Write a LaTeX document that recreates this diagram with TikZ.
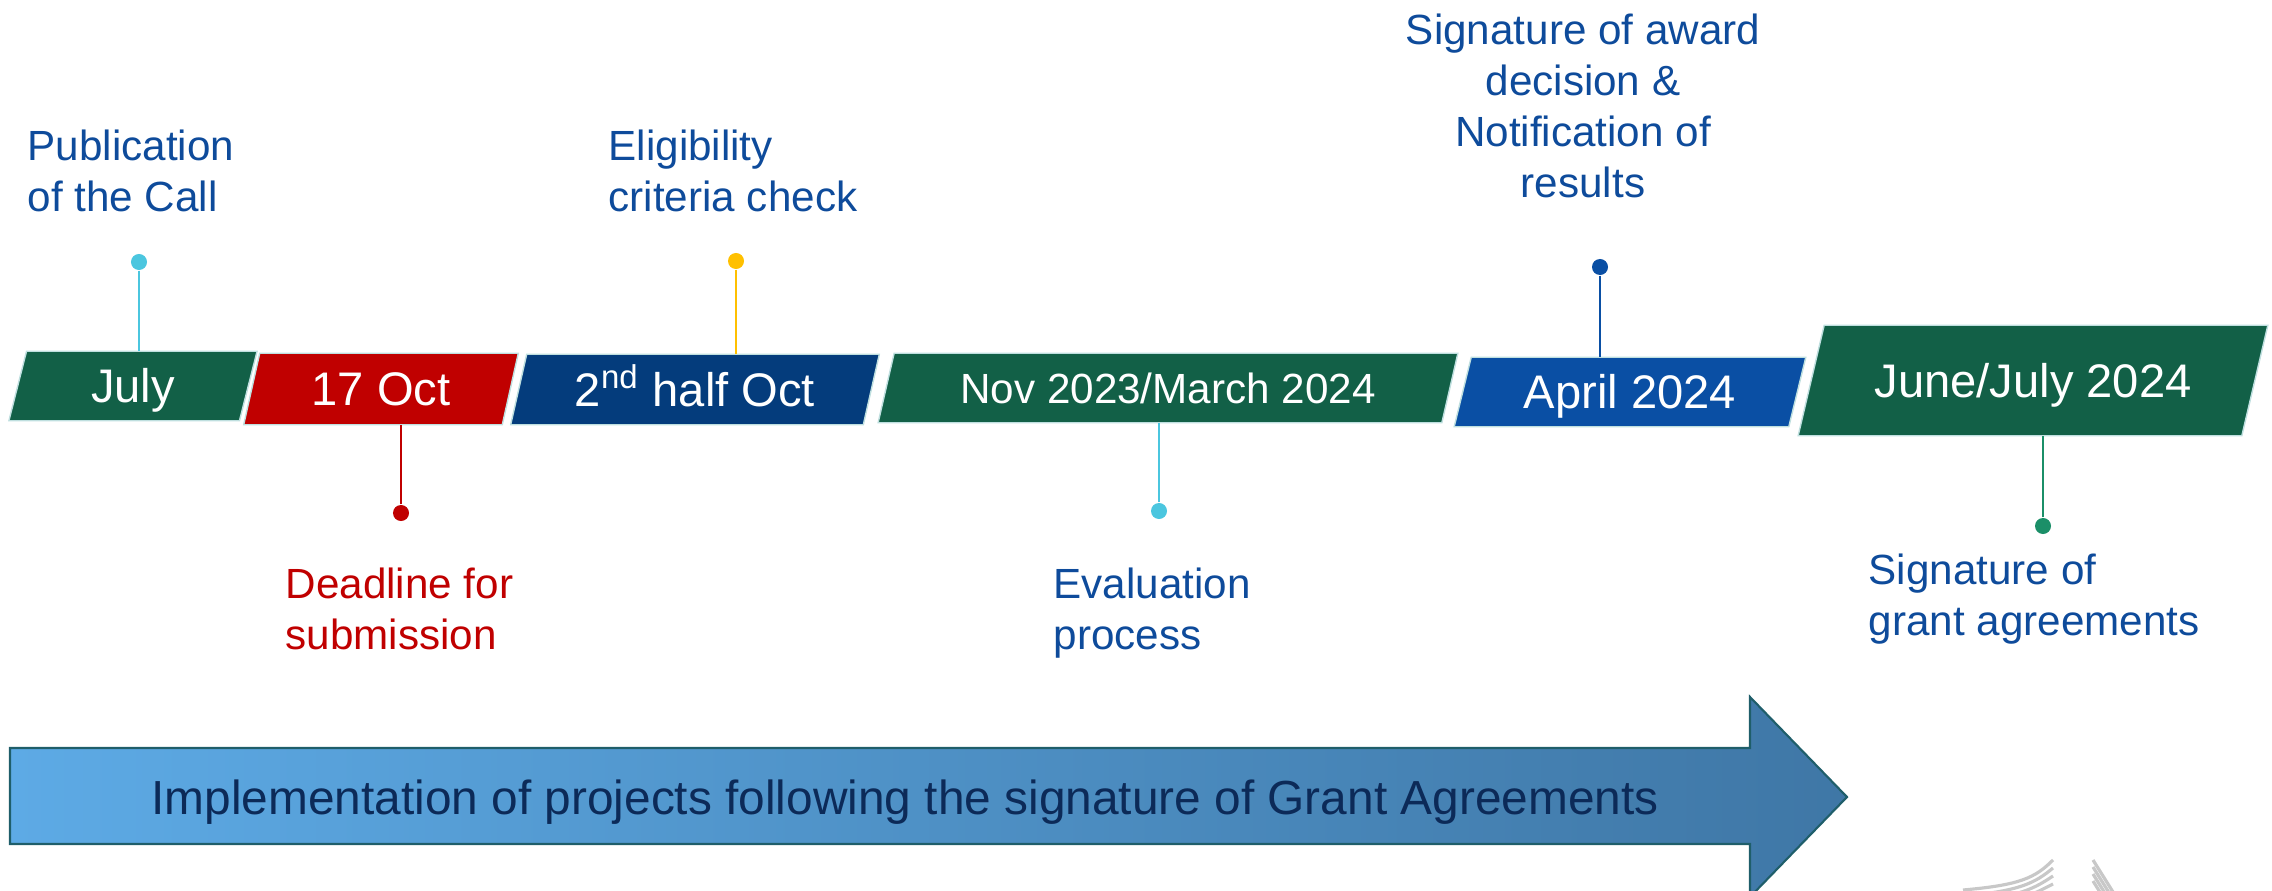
\documentclass[tikz,border=0pt]{standalone}
\usepackage{fontspec}
\setmainfont{Liberation Sans}
\usetikzlibrary{backgrounds}
\definecolor{boxgreen}{RGB}{18,96,71}
\definecolor{boxred}{RGB}{192,0,0}
\definecolor{boxnavy}{RGB}{4,60,124}
\definecolor{boxblue}{RGB}{10,79,164}
\definecolor{lblblue}{RGB}{14,75,155}
\definecolor{pincyan}{RGB}{75,198,223}
\definecolor{pinyellow}{RGB}{255,192,0}
\definecolor{pingreen}{RGB}{27,143,104}
\definecolor{arrowlight}{RGB}{93,170,229}
\definecolor{arrowdark}{RGB}{63,119,166}
\definecolor{arrowedge}{RGB}{31,94,106}
\definecolor{arrowtext}{RGB}{12,42,88}
\definecolor{logogray}{RGB}{200,200,200}
\begin{document}
\begin{tikzpicture}[x=0.01cm,y=-0.01cm,
    datebox/.style={text=white,inner sep=0pt,minimum height=0.68cm,text height=9.6pt,text depth=0pt,font=\fontsize{13.4}{16}\selectfont},
    pin/.style={circle,fill,inner sep=0pt,minimum size=0.16cm},
    stem/.style={line width=0.8pt},
    lbl/.style={inner sep=0pt,align=left,anchor=north west,font=\fontsize{12}{14.5}\selectfont}]
  \useasboundingbox (0,0) rectangle (2272,891);

  \node[datebox,minimum width=2.29cm] (july) at (133,386) {July};
  \node[datebox,minimum width=2.57cm,minimum height=0.70cm] (oct17) at (381,389) {17 Oct};
  \node[datebox,minimum width=3.51cm,minimum height=0.69cm] (octhalf) at (695,389.5) {2\textsuperscript{nd} half Oct};
  \node[datebox,minimum width=5.62cm,text height=8.6pt,font=\fontsize{12}{14}\selectfont] (evalper) at (1168,388) {Nov 2023/March 2024};
  \node[datebox,minimum width=3.33cm] (april) at (1630,392) {April 2024};
  \node[datebox,minimum width=4.42cm,minimum height=1.09cm] (junejuly) at (2033,380.5) {June/July 2024};

  \begin{scope}[on background layer]
    \foreach \n/\c/\s in {july/boxgreen/0.088cm,oct17/boxred/0.08cm,octhalf/boxnavy/0.08cm,
        evalper/boxgreen/0.08cm,april/boxblue/0.085cm,junejuly/boxgreen/0.13cm}
      \filldraw[fill=\c,draw=white!75!teal,line width=0.4pt]
        ([xshift=\s]\n.north west) -- ([xshift=\s]\n.north east)
        -- ([xshift=-\s]\n.south east) -- ([xshift=-\s]\n.south west) -- cycle;
  \end{scope}

  \node[pin,pincyan] (pubdot) at (139,262) {};
  \node[pin,boxred] (deaddot) at (401,513) {};
  \node[pin,pinyellow] (eligdot) at (736,261) {};
  \node[pin,pincyan] (evaldot) at (1159,511) {};
  \node[pin,boxblue] (awarddot) at (1600,267) {};
  \node[pin,pingreen] (grantdot) at (2043,526) {};
  \draw[stem,pincyan] (pubdot) -- (pubdot |- july.north);
  \draw[stem,boxred] (deaddot) -- (deaddot |- oct17.south);
  \draw[stem,pinyellow] (eligdot) -- (eligdot |- octhalf.north);
  \draw[stem,pincyan] (evaldot) -- (evaldot |- evalper.south);
  \draw[stem,boxblue] (awarddot) -- (awarddot |- april.north);
  \draw[stem,pingreen] (grantdot) -- (grantdot |- junejuly.south);

  \node[lbl,text=lblblue] (publbl) at (27,129) {Publication\\of the Call};
  \node[lbl,text=lblblue] (eliglbl) at (608,129) {Eligibility\\criteria check};
  \node[lbl,text=lblblue,align=center,anchor=north] (awardlbl) at (1583,13) {Signature of award\\decision \&\\Notification of\\results};
  \node[lbl,text=boxred] (deadlbl) at (285,567) {Deadline for\\submission};
  \node[lbl,text=lblblue] (evallbl) at (1053,567) {Evaluation\\process};
  \node[lbl,text=lblblue] (grantlbl) at (1868,553) {Signature of\\grant agreements};

  \draw[draw=arrowedge,line width=0.6pt,left color=arrowlight,right color=arrowdark]
    (10,748) -- (1750,748) -- (1750,697) -- (1847,797) -- (1750,897) -- (1750,844) -- (10,844) -- cycle;
  \node[inner sep=0pt,text=arrowtext,text height=9.7pt,text depth=0pt,font=\fontsize{13.6}{16}\selectfont] (impl) at (905,797)
    {Implementation of projects following the signature of Grant Agreements};

  \foreach \k in {0,...,3} {
    \draw[logogray,line width=0.9pt] (1963,890+6*\k) .. controls (2020,885+6*\k) and (2035,878+5*\k) .. (2053,860+8*\k);
    \draw[logogray,line width=0.9pt] (2093,860+7*\k) -- (2118,900+7*\k);
  }
\end{tikzpicture}
\end{document}
